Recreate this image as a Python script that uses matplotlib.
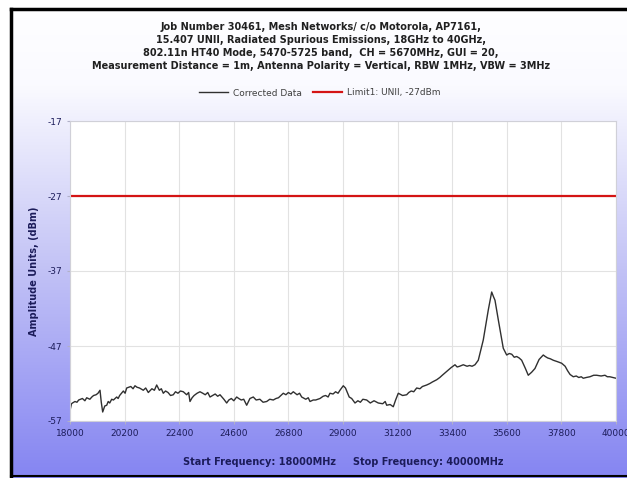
import numpy as np
import matplotlib
matplotlib.use('Agg')
import matplotlib.pyplot as plt
from matplotlib.colors import LinearSegmentedColormap

# values
freq_mhz = [18000, 18060, 18100, 18200, 18280, 18350, 18500, 18600, 18673, 18800,
            18880, 18950, 19050, 19128, 19209, 19260, 19317, 19400, 19479, 19540,
            19600, 19680, 19750, 19882, 19940, 20000, 20150, 20220, 20284, 20450,
            20540, 20619, 20700, 20800, 20953, 21050, 21155, 21300, 21400, 21493,
            21600, 21680, 21759, 21850, 21950, 22050, 22162, 22250, 22350, 22450,
            22565, 22700, 22780, 22835, 22920, 23000, 23120, 23238, 23350, 23450,
            23550, 23641, 23750, 23850, 23950, 24044, 24200, 24313, 24400, 24500,
            24600, 24716, 24800, 24900, 25000, 25119, 25250, 25385, 25500, 25650,
            25780, 25925, 26050, 26191, 26300, 26400, 26500, 26594, 26700, 26800,
            26900, 26997, 27150, 27250, 27335, 27500, 27600, 27670, 27800, 27900,
            28073, 28200, 28300, 28400, 28475, 28600, 28700, 28800, 28878, 29011,
            29100, 29250, 29350, 29483, 29600, 29700, 29800, 29954, 30100, 30250,
            30422, 30600, 30700, 30760, 30900, 31026, 31120, 31228, 31400, 31566,
            31650, 31750, 31850, 31969, 32100, 32200, 32372, 32500, 32600, 32775,
            32900, 33000, 33177, 33350, 33512, 33600, 33700, 33846, 34000, 34100,
            34200, 34318, 34451, 34652, 34854, 34991, 35060, 35124, 35257, 35458,
            35595, 35700, 35800, 35900, 35998, 36100, 36199, 36350, 36465, 36600,
            36735, 36900, 37070, 37150, 37250, 37350, 37473, 37650, 37811, 37950,
            38050, 38150, 38279, 38400, 38500, 38600, 38681, 38800, 38950, 39100,
            39221, 39400, 39555, 39650, 39750, 39880, 40000]
amp_dbm = [-55.6, -54.7, -54.6, -54.4, -54.5, -54.2, -54.0, -54.3, -53.9, -54.1,
           -53.8, -53.6, -53.5, -53.3, -52.9, -54.5, -55.8, -55.0, -54.9, -54.4,
           -54.6, -54.1, -54.2, -53.8, -54.0, -53.6, -53.0, -53.3, -52.6, -52.4,
           -52.7, -52.3, -52.5, -52.6, -52.9, -52.6, -53.2, -52.7, -52.9, -52.2,
           -52.9, -52.7, -53.3, -53.0, -53.2, -53.6, -53.5, -53.1, -53.3, -53.0,
           -53.1, -53.5, -53.2, -54.4, -53.9, -53.6, -53.3, -53.1, -53.3, -53.5,
           -53.2, -53.8, -53.6, -53.4, -53.7, -53.5, -54.1, -54.6, -54.2, -54.0,
           -54.3, -53.8, -54.0, -54.2, -54.1, -54.9, -54.0, -53.8, -54.2, -54.1,
           -54.5, -54.4, -54.1, -54.2, -54.0, -53.9, -53.6, -53.3, -53.5, -53.2,
           -53.4, -53.1, -53.5, -53.3, -53.8, -54.1, -53.9, -54.4, -54.2, -54.2,
           -54.0, -53.7, -53.6, -53.8, -53.3, -53.4, -53.1, -53.3, -52.9, -52.3,
           -52.6, -53.8, -54.0, -54.6, -54.3, -54.5, -54.1, -54.2, -54.6, -54.3,
           -54.6, -54.7, -54.4, -54.9, -54.8, -55.1, -54.2, -53.3, -53.6, -53.5,
           -53.2, -53.0, -53.1, -52.6, -52.7, -52.4, -52.2, -52.0, -51.8, -51.5,
           -51.2, -50.9, -50.4, -49.9, -49.5, -49.8, -49.7, -49.5, -49.7, -49.6,
           -49.7, -49.5, -48.9, -46.2, -42.2, -39.8, -40.4, -40.9, -43.5, -47.3,
           -48.2, -48.0, -48.1, -48.5, -48.4, -48.6, -48.9, -50.0, -50.9, -50.5,
           -50.0, -48.8, -48.2, -48.4, -48.6, -48.7, -48.9, -49.1, -49.3, -49.7,
           -50.3, -50.8, -51.1, -51.0, -51.2, -51.1, -51.3, -51.2, -51.1, -50.9,
           -50.9, -51.0, -50.9, -51.1, -51.1, -51.2, -51.3]
limit_dbm = -27
x_ticks = [18000, 20200, 22400, 24600, 26800, 29000, 31200, 33400, 35600, 37800, 40000]
y_ticks = [-57, -47, -37, -27, -17]

title = ('Job Number 30461, Mesh Networks/ c/o Motorola, AP7161,\n'
         '15.407 UNII, Radiated Spurious Emissions, 18GHz to 40GHz,\n'
         '802.11n HT40 Mode, 5470-5725 band,  CH = 5670MHz, GUI = 20,\n'
         'Measurement Distance = 1m, Antenna Polarity = Vertical, RBW 1MHz, VBW = 3MHz')

navy = '#1c1c5a'

fig = plt.figure(figsize=(6.27, 4.78), dpi=100)

# background gradient, white at the top to blue-violet at the bottom
bg = fig.add_axes([0, 0, 1, 1], zorder=-10)
cmap = LinearSegmentedColormap.from_list(
    'bg', [(0, '#ffffff'), (0.18, '#fafaff'), (0.55, '#c4c4f6'), (1, '#8585f2')])
grad = np.linspace(0, 1, 256).reshape(-1, 1)
bg.imshow(grad, aspect='auto', cmap=cmap, extent=[0, 1, 0, 1], origin='upper')
bg.set_xlim(0, 1)
bg.set_ylim(0, 1)
bg.axis('off')
# black frame (left / top / bottom)
bg.plot([11 / 627, 11 / 627], [1 - 9 / 478, 1 - 476 / 478], color='black', lw=2.5)
bg.plot([11 / 627, 1], [1 - 9 / 478, 1 - 9 / 478], color='black', lw=2.5)
bg.plot([11 / 627, 1], [1 - 476 / 478, 1 - 476 / 478], color='black', lw=1.5)
bg.fill_between([0, 11 / 627], 0, 1, color='white')
bg.fill_between([0, 1], 1 - 8 / 478, 1, color='white')

ax = fig.add_axes([70 / 627, 1 - 421 / 478, 546 / 627, 300 / 478])
ax.set_facecolor('white')
ax.plot(freq_mhz, amp_dbm, color='#303030', lw=1.0, label='Corrected Data')
ax.axhline(limit_dbm, color='#d41414', lw=1.6, label='Limit1: UNII, -27dBm')

ax.set_xlim(18000, 40000)
ax.set_ylim(-57, -17)
ax.set_xticks(x_ticks)
ax.set_yticks(y_ticks)
ax.set_xticklabels([str(t) for t in x_ticks])
ax.set_yticklabels([str(t) for t in y_ticks])
ax.tick_params(labelsize=6.5, colors='#b0b0c8', labelcolor=navy, length=2)
ax.grid(True, color='#e2e2e2', lw=0.8)
for s in ax.spines.values():
    s.set_color('#d0d0d8')

ax.set_xlabel('Start Frequency: 18000MHz     Stop Frequency: 40000MHz',
              fontsize=7, fontweight='bold', color=navy, labelpad=14)
ax.set_ylabel('Amplitude Units, (dBm)', fontsize=7, fontweight='bold', color=navy, labelpad=6)

fig.text(0.512, 1 - 22 / 478, title, ha='center', va='top', fontsize=7,
         fontweight='bold', color='#202020', linespacing=1.38)

leg = fig.legend(loc='center', bbox_to_anchor=(0.51, 1 - 93 / 478), ncol=2, frameon=False,
                 fontsize=6.5, handlelength=3.2, columnspacing=1.2, handletextpad=0.6)
for t in leg.get_texts():
    t.set_color('#404040')

fig.savefig('out.png', dpi=100)
